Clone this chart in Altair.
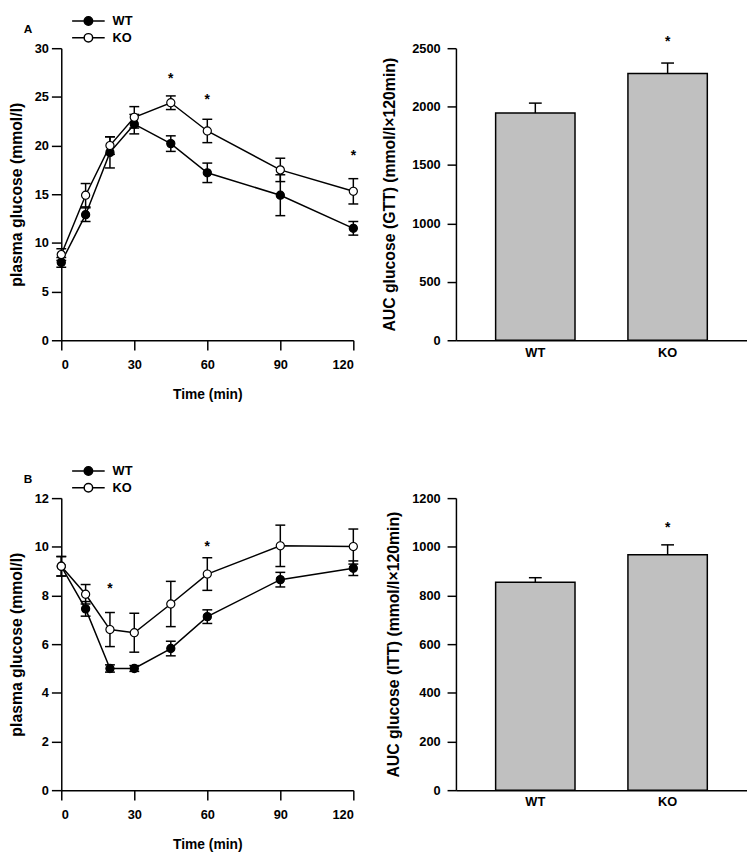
import altair as alt
import pandas as pd

# ---------------- data ----------------
times = [0, 10, 20, 30, 45, 60, 90, 120]
time_ticks = [0, 30, 60, 90, 120]
groups = ["WT", "KO"]

gtt_wt = [8.0, 12.9, 19.3, 22.2, 20.2, 17.2, 14.9, 11.5]
gtt_wt_err = [0.5, 0.7, 1.6, 1.0, 0.8, 1.0, 2.1, 0.7]
gtt_ko = [8.8, 14.9, 20.0, 22.9, 24.4, 21.5, 17.5, 15.3]
gtt_ko_err = [0.6, 1.2, 0.9, 1.1, 0.7, 1.2, 1.2, 1.3]
gtt_star_t = [45, 60, 120]
gtt_star_y = [26.8, 24.7, 18.9]

itt_wt = [9.2, 7.45, 5.0, 5.0, 5.82, 7.13, 8.65, 9.12]
itt_wt_err = [0.4, 0.3, 0.15, 0.12, 0.3, 0.28, 0.3, 0.3]
itt_ko = [9.2, 8.05, 6.6, 6.47, 7.65, 8.88, 10.04, 10.01]
itt_ko_err = [0.4, 0.4, 0.7, 0.8, 0.93, 0.67, 0.85, 0.72]
itt_star_t = [20, 60]
itt_star_y = [8.28, 10.0]

auc_gtt = [1945, 2283]
auc_gtt_err = [85, 90]
auc_gtt_star = [None, 2556]

auc_itt = [854, 967]
auc_itt_err = [19, 41]
auc_itt_star = [None, 1078]

FONT = "Liberation Sans"
# legend glyph: line with a circle in the middle (drawn wider than its layout box)
LEG_PATH = ("M-2.54,0 L-0.66,0 M0.66,0 L2.54,0 "
            "M-0.66,0 A0.66,0.66 0 1,0 0.66,0 A0.66,0.66 0 1,0 -0.66,0 Z")

W_LINE, W_BAR, H = 296, 295, 296


def line_df(wt, wt_err, ko, ko_err):
    rows = []
    for g, vals, errs in (("WT", wt, wt_err), ("KO", ko, ko_err)):
        for t, v, e in zip(times, vals, errs):
            rows.append({"t": t, "v": v, "lo": v - e, "hi": v + e, "group": g})
    return pd.DataFrame(rows)


def line_panel(df, star_t, star_y, ymax, ystep, label):
    xs = alt.X("t:Q", scale=alt.Scale(domain=[0, 120], nice=False),
               axis=alt.Axis(values=time_ticks, title="Time (min)", labelPadding=9,
                             titlePadding=16, titleFontSize=14))
    yscale = alt.Scale(domain=[0, ymax], nice=False)
    yaxis = alt.Axis(values=list(range(0, ymax + 1, ystep)), format="d",
                     title="plasma glucose (mmol/l)", labelPadding=3, titlePadding=10)
    base = alt.Chart(df)
    rules = base.mark_rule(color="black", strokeWidth=1.5).encode(
        x=xs, y=alt.Y("lo:Q", scale=yscale, axis=yaxis), y2="hi:Q")
    cap_lo = base.mark_tick(orient="horizontal", color="black", size=10,
                            thickness=1.5, opacity=1).encode(x="t:Q", y="lo:Q")
    cap_hi = base.mark_tick(orient="horizontal", color="black", size=10,
                            thickness=1.5, opacity=1).encode(x="t:Q", y="hi:Q")
    lines = base.mark_line(color="black", strokeWidth=1.5).encode(
        x="t:Q", y="v:Q", detail="group:N")
    pts = base.mark_circle(size=68, stroke="black", strokeWidth=1.2, opacity=1).encode(
        x="t:Q", y="v:Q",
        fill=alt.Fill("group:N",
                      scale=alt.Scale(domain=groups, range=["black", "white"]),
                      legend=alt.Legend(title=label, titleOrient="left",
                                        titleAnchor="middle", titleBaseline="middle",
                                        titleFont=FONT, titleFontSize=12,
                                        titleFontWeight="bold", titleColor="black",
                                        titlePadding=49,
                                        orient="none", legendX=-38, legendY=-35,
                                        symbolType=LEG_PATH, symbolSize=169,
                                        symbolStrokeColor="black", symbolStrokeWidth=1.5,
                                        labelFont=FONT, labelFontSize=13,
                                        labelFontWeight="bold", labelColor="black",
                                        labelOffset=17, rowPadding=2, padding=0)))
    stars = alt.Chart(pd.DataFrame({"t": star_t, "y": star_y, "s": ["*"] * len(star_t)})
                      ).mark_text(font=FONT, fontSize=14, fontWeight="bold", dy=0,
                                  color="black").encode(x="t:Q", y="y:Q", text="s:N")
    return alt.layer(rules, cap_lo, cap_hi, lines, pts, stars).properties(
        width=W_LINE, height=H)


def bar_panel(vals, errs, star, ymax, ystep, title, title_pad):
    df = pd.DataFrame({"g": groups, "v": vals,
                       "hi": [v + e for v, e in zip(vals, errs)], "star": star})
    xscale = alt.Scale(domain=groups, paddingInner=0.4, paddingOuter=0.3)
    xs = alt.X("g:N", sort=groups, scale=xscale,
               axis=alt.Axis(title=None, ticks=False, labelAngle=0, labelPadding=6))
    xs2 = alt.X("g:N", sort=groups, scale=xscale)
    ys = alt.Y("v:Q", scale=alt.Scale(domain=[0, ymax], nice=False),
               axis=alt.Axis(values=list(range(0, ymax + 1, ystep)), title=title,
                             format="d", tickSize=9, labelPadding=7,
                             titlePadding=title_pad))
    base = alt.Chart(df)
    bars = base.mark_bar(color="#c0c0c0", stroke="black", strokeWidth=1.5).encode(x=xs, y=ys)
    rule = base.mark_rule(color="black", strokeWidth=1.5).encode(x=xs2, y="v:Q", y2="hi:Q")
    cap = base.mark_tick(orient="horizontal", color="black", size=13, thickness=1.5,
                         opacity=1).encode(x=xs2, y="hi:Q")
    stars = base.transform_filter("datum.star != null").mark_text(
        text="*", font=FONT, fontSize=14, fontWeight="bold", dy=0, color="black"
    ).encode(x=xs2, y="star:Q")
    return alt.layer(bars, rule, cap, stars).properties(width=W_BAR, height=H)


lineA = line_panel(line_df(gtt_wt, gtt_wt_err, gtt_ko, gtt_ko_err),
                   gtt_star_t, gtt_star_y, 30, 5, "A")
barA = bar_panel(auc_gtt, auc_gtt_err, auc_gtt_star, 2500, 500,
                 "AUC glucose (GTT) (mmol/l\u00d7120min)", 14)
lineB = line_panel(line_df(itt_wt, itt_wt_err, itt_ko, itt_ko_err),
                   itt_star_t, itt_star_y, 12, 2, "B")
barB = bar_panel(auc_itt, auc_itt_err, auc_itt_star, 1200, 200,
                 "AUC glucose (ITT) (mmol/l\u00d7120min)", 10)

chart = alt.concat(lineA, barA, lineB, barB, columns=2, bounds="flush",
                   spacing={"row": 160, "column": 104}).resolve_scale(
    x="independent", y="independent", fill="independent"
).resolve_legend(fill="independent").properties(
    padding={"left": 0, "top": 0, "right": 0, "bottom": 2}
).configure_view(stroke=None).configure_axis(
    grid=False, domainColor="black", domainWidth=1.5, tickColor="black", tickWidth=1.5,
    tickSize=10, labelFont=FONT, labelFontSize=13, labelFontWeight="bold",
    labelColor="black", titleFont=FONT, titleFontSize=16, titleFontWeight="bold",
    titleColor="black"
)

chart.save("out.html", embed_options={"renderer": "svg", "actions": False})
